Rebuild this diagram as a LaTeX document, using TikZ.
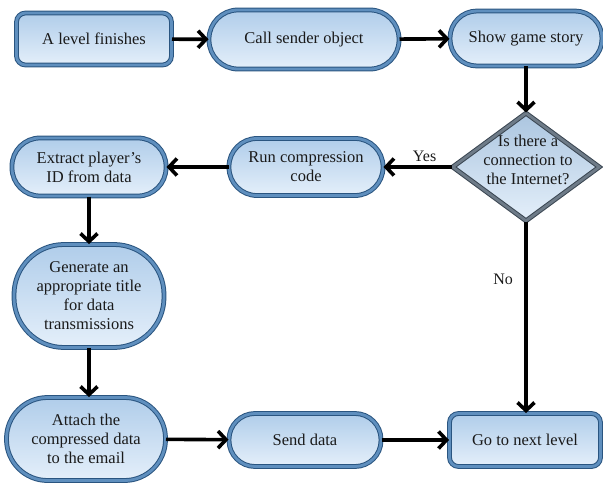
\documentclass[tikz,border=0pt]{standalone}
\usepackage{fontspec}
\setmainfont{Liberation Serif}
\usepackage{xcolor}
\usetikzlibrary{arrows.meta,shapes.geometric}
\definecolor{boxedge}{HTML}{2A5580}
\definecolor{boxrim}{HTML}{5F8FBE}
\definecolor{boxtop}{HTML}{B0CDEA}
\definecolor{boxbottom}{HTML}{E4EFFA}
\definecolor{askedge}{HTML}{3A4652}
\definecolor{askrim}{HTML}{6E7B88}
\definecolor{textmain}{HTML}{1A1A1A}

\begin{document}
\begin{tikzpicture}[x=1pt, y=-1pt,
  flowbox/.style={
    rectangle, draw=boxedge, double=boxrim, double distance=2.8pt,
    line width=1pt, top color=boxtop, bottom color=boxbottom,
    align=center, inner sep=2pt, text=textmain,
    font=\fontsize{16.5}{19}\selectfont,
  },
  decision/.style={
    diamond, draw=askedge, double=askrim, double distance=2.8pt,
    line width=1pt, top color=boxtop!90!gray, bottom color=boxbottom,
    inner sep=0pt,
  },
  flowarrow/.style={line width=3.6pt, -{Straight Barb[length=8pt,width=17pt]}},
  flowlabel/.style={font=\fontsize{16}{19}\selectfont, text=textmain},
]
\useasboundingbox (0,0) rectangle (603,487);

% top row
\node[flowbox, minimum width=155, minimum height=52, rounded corners=9] (finish) at (94,39) {A level finishes};
\node[flowbox, minimum width=190, minimum height=59, rounded corners=29] (caller) at (304,39.5) {Call sender object};
\node[flowbox, minimum width=152, minimum height=55, rounded corners=27] (story) at (526,38.5) {Show game story};

% decision
\node[decision, minimum width=147, minimum height=108] (ask) at (526,167) {};
\node[flowlabel, align=center, font=\fontsize{16.5}{19}\selectfont] (asktext) at (528,160) {Is there a\\connection to\\the Internet?};

% middle row and left column
\node[flowbox, minimum width=154, minimum height=57, rounded corners=28] (compress) at (306,167) {Run compression\\code};
\node[flowbox, minimum width=154, minimum height=58, rounded corners=28] (extract) at (89,167) {Extract player's\\ID from data};
\node[flowbox, minimum width=150, minimum height=103, rounded corners=50] (generate) at (89,296) {Generate an\\appropriate title\\for data\\transmissions};

% bottom row
\node[flowbox, minimum width=159, minimum height=83, rounded corners=41] (attach) at (86,439) {Attach the\\compressed data\\to the email};
\node[flowbox, minimum width=152, minimum height=53, rounded corners=26] (send) at (305,440) {Send data};
\node[flowbox, minimum width=151, minimum height=53, rounded corners=9] (next) at (525,440) {Go to next level};

% connectors
\draw[flowarrow] (finish) -- (caller);
\draw[flowarrow] (caller) -- (story);
\draw[flowarrow] (story) -- (ask);
\draw[flowarrow] (ask) -- node[flowlabel, above, pos=0.4] (yes) {Yes} (compress);
\draw[flowarrow] (compress) -- (extract);
\draw[flowarrow] (extract) -- (generate);
\draw[flowarrow] (generate) -- (generate |- attach.north);
\draw[flowarrow] (attach) -- (send);
\draw[flowarrow] (send) -- (next);
\draw[flowarrow] (ask) -- node[flowlabel, left, pos=0.3, xshift=-8pt] (no) {No} (ask |- next.north);

\end{tikzpicture}
\end{document}
